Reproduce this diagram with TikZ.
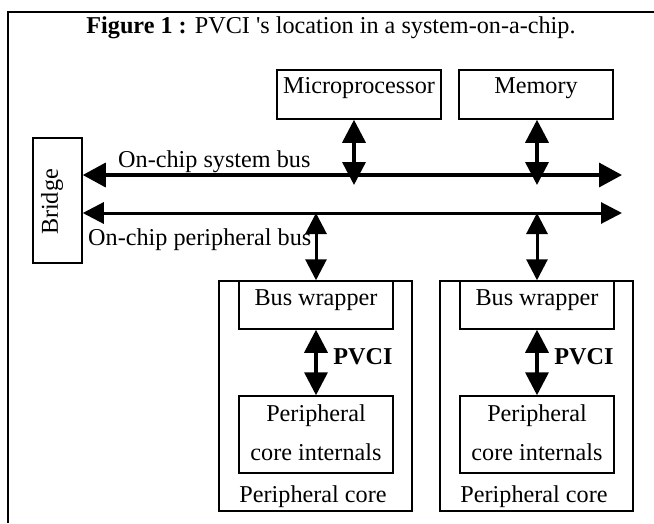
\documentclass[tikz,border=0pt]{standalone}
\usepackage{fontspec}
\setmainfont{Liberation Serif}
\usetikzlibrary{arrows.meta}
\begin{document}
\begin{tikzpicture}[x=1pt,y=-1pt,
  every node/.style={font=\fontsize{24.2}{28}\selectfont},
  box/.style={draw,line width=1.5pt,inner sep=0pt},
  corebox/.style={draw,line width=2.2pt,inner sep=0pt},
  txt/.style={inner sep=0pt},
  dbl/.style={line width=3.5pt,{Triangle[length=23pt,width=23pt]}-{Triangle[length=23pt,width=23pt]}},
  bus/.style={line width=3.5pt,{Triangle[length=23pt,width=24pt]}-{Triangle[length=23pt,width=24pt]}},
  pbus/.style={line width=3pt,{Triangle[length=21pt,width=21pt]}-{Triangle[length=21pt,width=21pt]}}]
\useasboundingbox (0,0) rectangle (654,523);
% outer frame (left and top only)
\coordinate (fbl) at (8,523);
\coordinate (ftl) at (8,12);
\coordinate (ftr) at (654,12);
\draw[line width=2pt] (fbl) -- (ftl) -- (ftr);
% title
\node[txt] (title) at (331,28) {\textbf{Figure 1 :} PVCI \textquotesingle s location in a system-on-a-chip.};
% top boxes
\node[box,minimum width=164pt,minimum height=49pt] (micro) at (359,94.5) {};
\node[txt] (microt) at (359,88) {Microprocessor};
\node[box,minimum width=154pt,minimum height=49pt] (mem) at (536,94.5) {};
\node[txt] (memt) at (536,88) {Memory};
% bridge
\node[box,minimum width=49pt,minimum height=125pt] (bridge) at (57.5,200.5) {};
\node[txt,rotate=90] (bridget) at (52,202) {Bridge};
% buses
\coordinate (sbR) at (622,175);
\coordinate (pbR) at (622,213);
\draw[bus] (bridge.east |- sbR) -- (sbR);
\draw[pbus] (bridge.east |- pbR) -- (pbR);
\node[txt,anchor=west] (sbl) at (118,162) {On-chip system bus};
\node[txt,anchor=west] (pbl) at (88,240) {On-chip peripheral bus};
% micro / memory connectors
\coordinate (sbM) at (354,185);
\coordinate (sbE) at (537,185);
\draw[dbl] (micro.south -| sbM) -- (sbM);
\draw[dbl] (mem.south -| sbE) -- (sbE);
% peripheral cores
\foreach \dx/\n in {0/a,221/b}{
  \begin{scope}[xshift=\dx]
  \node[corebox,minimum width=193pt,minimum height=230pt] (core\n) at (315.5,396) {};
  \node[box,minimum width=154pt,minimum height=48pt] (wrap\n) at (316,305) {};
  \node[txt] (wrapt\n) at (316,300) {Bus wrapper};
  \node[box,minimum width=154pt,minimum height=77pt] (int\n) at (316,434.5) {};
  \node[txt,align=center] (intt\n) at (316,433) {Peripheral\\[11pt]core internals};
  \node[txt] (coret\n) at (313,497) {Peripheral core};
  \coordinate (pb\n) at (316,213);
  \draw[pbus] (pb\n) -- (wrap\n.north);
  \draw[dbl] (wrap\n.south) -- (int\n.north);
  \node[txt] (pvci\n) at (363,357) {\textbf{PVCI}};
  \end{scope}
}
\end{tikzpicture}
\end{document}
